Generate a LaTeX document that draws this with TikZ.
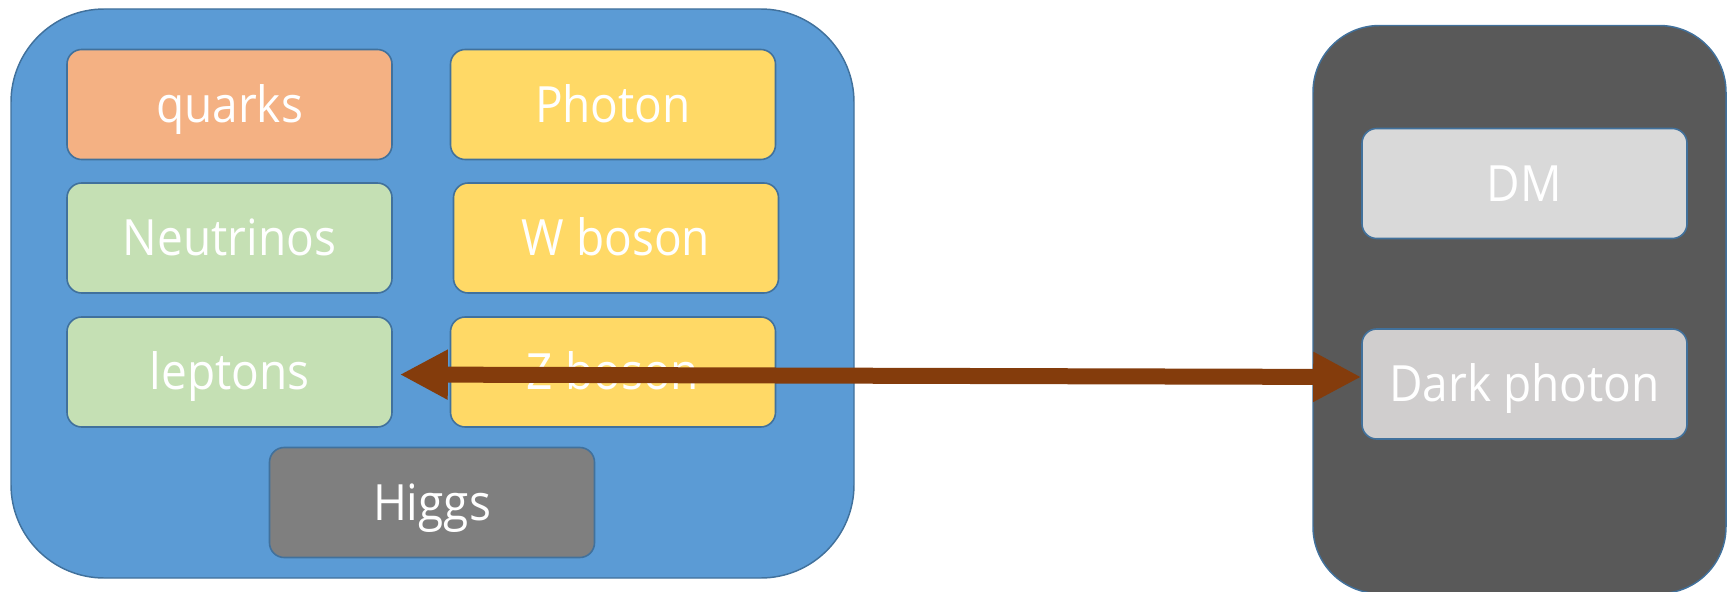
\documentclass[tikz,border=0pt]{standalone}
\usepackage{fontspec}
\usetikzlibrary{arrows.meta}
\newfontfamily\boxfont{Open Sans}[FakeStretch=0.92]

\definecolor{smblue}{HTML}{5B9BD5}
\definecolor{edgeblue}{HTML}{41719C}
\definecolor{quarkfill}{HTML}{F4B183}
\definecolor{bosonfill}{HTML}{FFD966}
\definecolor{leptonfill}{HTML}{C5E0B4}
\definecolor{higgsfill}{HTML}{7F7F7F}
\definecolor{darkfill}{HTML}{595959}
\definecolor{dmfill}{HTML}{D9D9D9}
\definecolor{dphfill}{HTML}{D0CECE}
\definecolor{linkbrown}{HTML}{843C0C}

\tikzset{
  sector/.style={draw=edgeblue, line width=1.1pt, inner sep=0pt},
  particle/.style={draw=edgeblue, line width=1.2pt, rounded corners=11pt,
    minimum width=243.75pt, minimum height=82.5pt, inner sep=0pt,
    text=white, font=\boxfont\fontsize{37.5pt}{40pt}\selectfont,
    text height=26.8pt, text depth=0pt},
  portal/.style={linkbrown, line width=12pt,
    {Triangle[length=36pt,width=35pt]}-{Triangle[length=36pt,width=35pt]}}
}

\begin{document}
\begin{tikzpicture}[x=0.75pt, y=-0.75pt]
  \useasboundingbox (0,0) rectangle (1735,592);

  % Standard Model sector
  \node[sector, fill=smblue, rounded corners=70pt,
        minimum width=632.25pt, minimum height=426.75pt] (sm) at (432.5,293.5) {};
  % Dark sector
  \node[sector, fill=darkfill, rounded corners=50pt,
        minimum width=309.75pt, minimum height=426pt] (ds) at (1519.5,309.5) {};

  % Standard Model particles
  \node[particle, fill=quarkfill]  (quarks)    at (229.5,104.5) {quarks};
  \node[particle, fill=bosonfill]  (photon)    at (613,104.5)   {Photon};
  \node[particle, fill=leptonfill] (neutrinos) at (229.5,238)   {Neutrinos};
  \node[particle, fill=bosonfill]  (wboson)    at (616,238)     {W boson};
  \node[particle, fill=leptonfill] (leptons)   at (229.5,372)   {leptons};
  \node[particle, fill=bosonfill]  (zboson)    at (613,372)     {Z boson};
  \node[particle, fill=higgsfill]  (higgs)     at (432,502.5)   {Higgs};

  % Dark sector particles
  \node[particle, fill=dmfill]  (dm)   at (1524.5,183.5) {DM};
  \node[particle, fill=dphfill] (dark) at (1524.5,384)   {Dark photon};

  % Kinetic mixing link
  \draw[portal] ([xshift=5.25pt,yshift=-1.9pt]leptons.east)
             -- ([yshift=5.25pt]dark.west);
\end{tikzpicture}
\end{document}
